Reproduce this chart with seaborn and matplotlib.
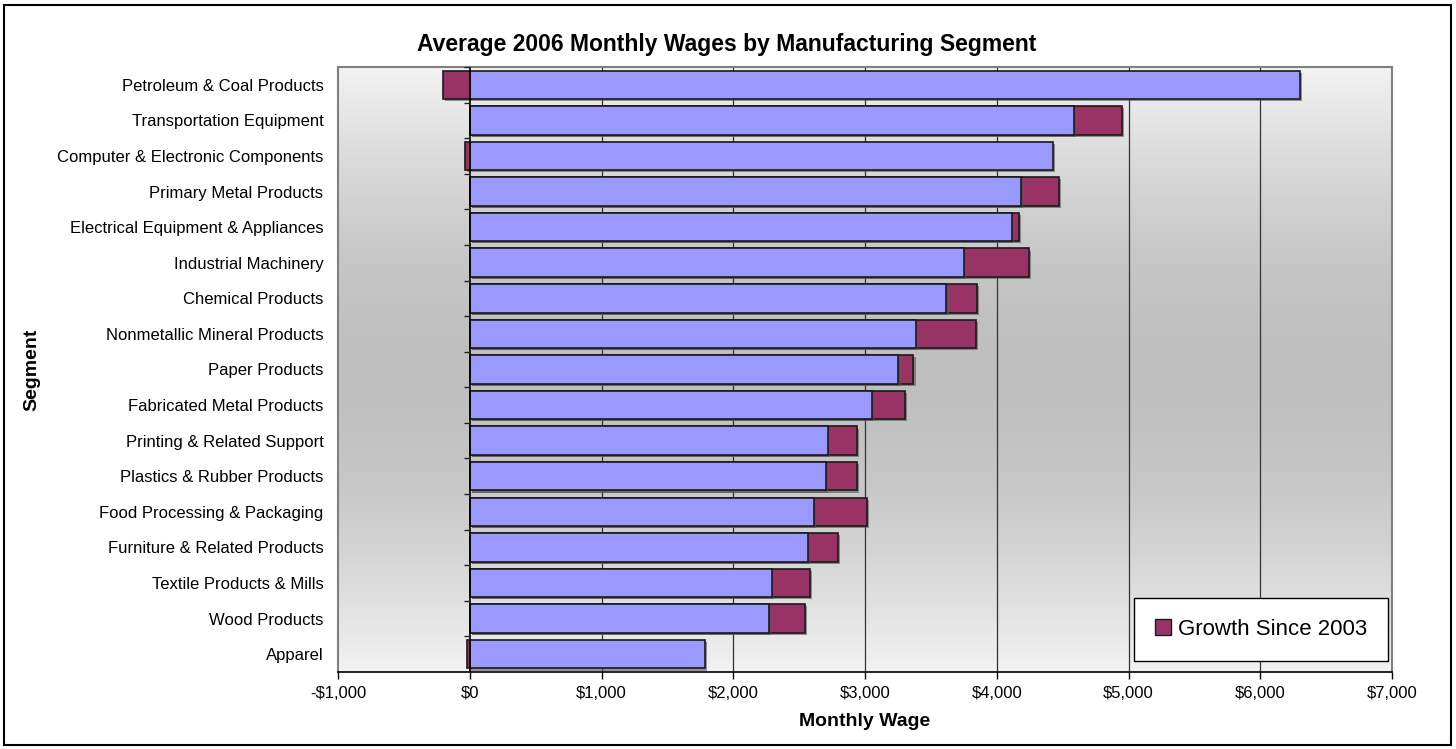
import numpy as np
import pandas as pd
import matplotlib
matplotlib.use("Agg")
import matplotlib.pyplot as plt
import matplotlib.patheffects as pe
from matplotlib.patches import Patch, Rectangle
from matplotlib.ticker import FuncFormatter
import seaborn as sns

# Data
segments = [
    "Petroleum & Coal Products", "Transportation Equipment",
    "Computer & Electronic Components", "Primary Metal Products",
    "Electrical Equipment & Appliances", "Industrial Machinery",
    "Chemical Products", "Nonmetallic Mineral Products", "Paper Products",
    "Fabricated Metal Products", "Printing & Related Support",
    "Plastics & Rubber Products", "Food Processing & Packaging",
    "Furniture & Related Products", "Textile Products & Mills",
    "Wood Products", "Apparel",
]
wage_2006 = [6302, 4584, 4424, 4181, 4112, 3748, 3618, 3390, 3254,
             3056, 2719, 2704, 2613, 2568, 2294, 2272, 1786]
growth = [-200, 364, -35, 290, 60, 493, 235, 455, 114,
          250, 220, 236, 403, 228, 288, 273, -20]
x_ticks = list(range(-1000, 8000, 1000))

df = pd.DataFrame({"segment": segments, "wage": wage_2006, "growth": growth})
# growth bar is stacked after the wage bar when positive, drawn left of zero when negative
df["growth_end"] = np.where(df["growth"] > 0, df["wage"] + df["growth"], df["growth"])

blue = "#9999FF"
maroon = "#993366"

sns.set_theme(style="white", rc={"text.color": "black", "axes.labelcolor": "black",
                                 "xtick.color": "black", "ytick.color": "black"})
plt.rcParams["font.family"] = ["Liberation Sans", "DejaVu Sans"]

fig = plt.figure(figsize=(14.56, 7.49), dpi=100)
ax = fig.add_axes([338 / 1456, 1 - 672 / 749, (1392 - 338) / 1456, (672 - 67) / 749])

# gradient background: light top/bottom, grey middle
t = np.linspace(0, 1, 256)
shade = 0.95 - 0.20 * np.sin(np.pi * t)
grad = np.stack([shade, shade, shade], axis=-1)[:, None, :]
ax.imshow(grad, aspect="auto", extent=[0, 1, 0, 1], transform=ax.transAxes, zorder=0)

shadow = [pe.SimplePatchShadow(offset=(1.5, -1.5), shadow_rgbFace="#555555", alpha=0.6), pe.Normal()]

sns.barplot(data=df, x="growth_end", y="segment", orient="h", color=maroon,
            saturation=1, width=0.8, edgecolor="#1a1a1a", linewidth=1.2, ax=ax, zorder=3)
sns.barplot(data=df, x="wage", y="segment", orient="h", color=blue,
            saturation=1, width=0.8, edgecolor="#1a1a1a", linewidth=1.2, ax=ax, zorder=3)
for p in ax.patches:
    p.set_path_effects(shadow)

ax.set_xlim(-1000, 7000)
ax.set_ylim(len(segments) - 0.5, -0.5)

for x in x_ticks[2:-1]:
    ax.axvline(x, color="#333333", lw=0.9, zorder=1)
ax.axvline(0, color="black", lw=1.2, zorder=4)
# category boundary tick marks on the zero line
ax.hlines([i + 0.5 for i in range(-1, len(segments))], -45, 0, color="#222222", lw=1.0, zorder=4)

ax.set_xticks(x_ticks)
ax.xaxis.set_major_formatter(FuncFormatter(lambda v, _: f"-${abs(v):,.0f}" if v < 0 else f"${v:,.0f}"))
ax.tick_params(axis="x", bottom=True, length=5, width=1, color="black", labelsize=12, pad=5)
ax.tick_params(axis="y", left=False, length=0, labelsize=12, pad=10.5)

for s in ["left", "right", "top"]:
    ax.spines[s].set_color("#808080")
    ax.spines[s].set_linewidth(1.5)
ax.spines["bottom"].set_color("black")
ax.spines["bottom"].set_linewidth(1.2)

ax.set_xlabel("Monthly Wage", fontsize=14, fontweight="bold", labelpad=9)
ax.set_ylabel("Segment", fontsize=14, fontweight="bold", va="center")
ax.yaxis.set_label_coords((32 - 338) / (1392 - 338), 0.5)
fig.text(727 / 1456, 1 - 44 / 749, "Average 2006 Monthly Wages by Manufacturing Segment",
         ha="center", va="center", fontsize=16.5, fontweight="bold")

leg = ax.legend(handles=[Patch(facecolor=maroon, edgecolor="#1a1a1a", label="Growth Since 2003")],
                loc="lower right", bbox_to_anchor=(0.9965, 0.018), fontsize=16, frameon=True,
                fancybox=False, edgecolor="black", framealpha=1, borderpad=0.95,
                handlelength=0.75, handleheight=0.75, handletextpad=0.3, borderaxespad=0)
leg.get_frame().set_linewidth(1.0)
leg.set_zorder(5)

fig.patches.append(Rectangle((4 / 1456, 4 / 749), 1 - 9 / 1456, 1 - 9 / 749, transform=fig.transFigure,
                             fill=False, edgecolor="black", lw=1.5))

fig.savefig("out.png", dpi=100)
